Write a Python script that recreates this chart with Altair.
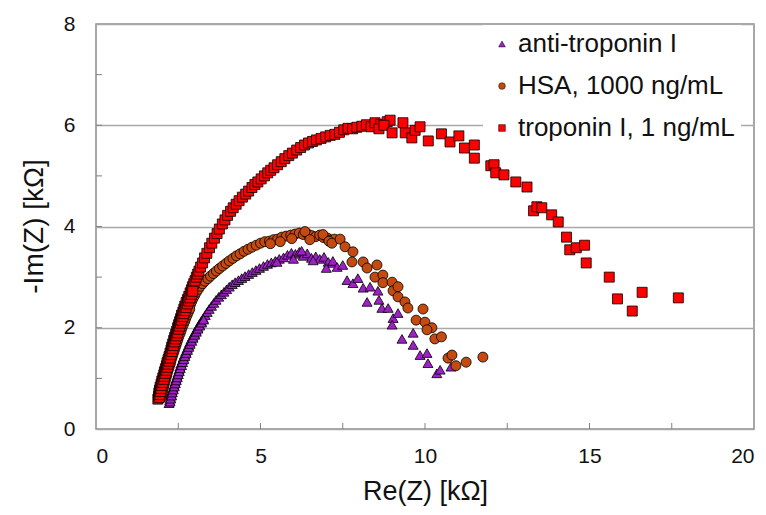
import altair as alt
import pandas as pd

series_names = ["anti-troponin I", "HSA, 1000 ng/mL", "troponin I, 1 ng/mL"]
series_colors = ["#A020C8", "#C44A10", "#FF0000"]
series_shapes = ["triangle-up", "circle", "square"]

anti_x = [2.22, 2.24, 2.26, 2.28, 2.31, 2.34, 2.37, 2.40, 2.43, 2.46,
          2.49, 2.52, 2.55, 2.58, 2.62, 2.65, 2.69, 2.73, 2.77, 2.81,
          2.85, 2.89, 2.94, 2.99, 3.04, 3.09, 3.14, 3.20, 3.26, 3.32,
          3.38, 3.44, 3.51, 3.58, 3.65, 3.73, 3.81, 3.89, 3.97, 4.05,
          4.14, 4.23, 4.33, 4.43, 4.53, 4.64, 4.75, 4.86, 4.97, 5.09,
          5.21, 5.33, 5.45, 5.57, 5.70, 5.82, 5.94, 6.06, 6.18, 6.30,
          6.42, 6.55, 6.68, 6.80, 6.93, 7.06, 7.20,
          5.50, 6.00, 6.25, 6.60, 7.00,
          7.20, 7.33, 7.50, 7.63, 7.81, 7.96, 8.12, 8.33, 8.57, 8.24,
          8.60, 8.69, 8.88, 9.03, 9.18, 9.00, 9.30, 9.64, 9.64, 9.85,
          10.06, 10.09, 10.36, 10.46, 10.79]
anti_y = [0.51, 0.57, 0.63, 0.69, 0.75, 0.81, 0.87, 0.93, 0.99, 1.05,
          1.11, 1.17, 1.23, 1.29, 1.35, 1.41, 1.47, 1.53, 1.59, 1.65,
          1.71, 1.77, 1.83, 1.89, 1.95, 2.01, 2.07, 2.13, 2.19, 2.25,
          2.31, 2.37, 2.43, 2.49, 2.55, 2.61, 2.66, 2.71, 2.76, 2.81,
          2.86, 2.90, 2.94, 2.98, 3.02, 3.06, 3.10, 3.14, 3.18, 3.22,
          3.26, 3.29, 3.32, 3.36, 3.39, 3.44, 3.48, 3.46, 3.50, 3.42,
          3.47, 3.38, 3.41, 3.36, 3.40, 3.30, 3.28,
          3.30, 3.36, 3.52, 3.33, 3.18,
          3.32, 3.20, 3.24, 2.94, 2.88, 2.98, 2.79, 2.81, 2.73, 2.51,
          2.55, 2.39, 2.39, 2.19, 2.29, 2.06, 1.78, 1.90, 1.66, 1.46,
          1.50, 1.30, 1.10, 1.17, 1.23]
# densely packed high-frequency points (lower part of the arc)
anti_x_dense = [2.25, 2.27, 2.30, 2.32, 2.35, 2.38, 2.41, 2.44, 2.47, 2.50,
                2.53, 2.56, 2.60, 2.63, 2.67, 2.70, 2.74, 2.78, 2.82, 2.86,
                2.91, 2.95, 3.00, 3.05, 3.10, 3.15, 3.21, 3.27]
anti_y_dense = [0.54, 0.60, 0.66, 0.72, 0.78, 0.84, 0.90, 0.96, 1.02, 1.08,
                1.14, 1.20, 1.26, 1.32, 1.38, 1.44, 1.50, 1.56, 1.62, 1.68,
                1.74, 1.80, 1.86, 1.92, 1.98, 2.04, 2.10, 2.16]

hsa_x = [1.95, 1.97, 1.99, 2.01, 2.03, 2.05, 2.08, 2.10, 2.13, 2.15,
         2.18, 2.21, 2.23, 2.26, 2.29, 2.32, 2.35, 2.38, 2.41, 2.44,
         2.47, 2.50, 2.53, 2.57, 2.60, 2.64, 2.67, 2.71, 2.75, 2.79,
         2.83, 2.87, 2.91, 2.95, 3.00, 3.05, 3.11, 3.17, 3.24, 3.31,
         3.40, 3.48, 3.57, 3.66, 3.75, 3.85, 3.95, 4.05, 4.16, 4.27,
         4.38, 4.50, 4.62, 4.74, 4.87, 5.00, 5.13, 5.27, 5.40, 5.52,
         5.65, 5.78, 5.92, 6.05, 6.18, 6.30, 6.42, 6.55, 6.68, 6.80,
         6.92, 7.04, 7.15, 7.25,
         5.30, 5.60, 5.95, 6.35, 6.50, 6.90, 7.08,
         7.17, 7.42, 7.57, 7.81, 7.78, 8.12, 8.24, 8.54, 8.48, 8.72,
         8.72, 9.00, 9.03, 9.18, 9.18, 9.39, 9.48, 9.73, 9.94, 10.00,
         10.21, 10.06, 10.30, 10.50, 10.70, 10.82, 10.94, 11.25, 11.76]
hsa_y = [0.60, 0.66, 0.72, 0.78, 0.84, 0.90, 0.96, 1.02, 1.08, 1.14,
         1.20, 1.26, 1.32, 1.38, 1.44, 1.50, 1.56, 1.62, 1.68, 1.74,
         1.80, 1.86, 1.92, 1.98, 2.04, 2.10, 2.16, 2.22, 2.28, 2.34,
         2.40, 2.46, 2.52, 2.58, 2.64, 2.70, 2.76, 2.82, 2.87, 2.92,
         2.97, 3.02, 3.07, 3.12, 3.17, 3.22, 3.27, 3.32, 3.37, 3.42,
         3.46, 3.51, 3.55, 3.59, 3.63, 3.67, 3.70, 3.71, 3.74, 3.75,
         3.79, 3.81, 3.83, 3.85, 3.87, 3.84, 3.86, 3.82, 3.80, 3.83,
         3.78, 3.77, 3.73, 3.75,
         3.66, 3.70, 3.76, 3.90, 3.74, 3.84, 3.71,
         3.67, 3.75, 3.60, 3.50, 3.30, 3.30, 3.18, 3.24, 3.00, 3.04,
         2.89, 2.90, 2.73, 2.81, 2.61, 2.51, 2.39, 2.15, 2.37, 2.11,
         2.00, 1.96, 1.78, 1.82, 1.40, 1.46, 1.25, 1.32, 1.42]
hsa_x_dense = [1.99, 2.01, 2.03, 2.05, 2.07, 2.10, 2.12, 2.15, 2.17, 2.20,
               2.23, 2.26, 2.28, 2.31, 2.34, 2.37, 2.40, 2.43, 2.46, 2.49,
               2.52, 2.56, 2.59, 2.62, 2.66, 2.70, 2.73, 2.77, 2.81, 2.85]
hsa_y_dense = [0.63, 0.69, 0.75, 0.81, 0.87, 0.93, 0.99, 1.05, 1.11, 1.17,
               1.23, 1.29, 1.35, 1.41, 1.47, 1.53, 1.59, 1.65, 1.71, 1.77,
               1.83, 1.89, 1.95, 2.01, 2.07, 2.13, 2.19, 2.25, 2.31, 2.37]

trop_x = [1.88, 1.90, 1.91, 1.93, 1.95, 1.98, 2.00, 2.03, 2.06, 2.08,
          2.11, 2.14, 2.16, 2.19, 2.22, 2.25, 2.28, 2.30, 2.33, 2.36,
          2.39, 2.42, 2.45, 2.48, 2.51, 2.54, 2.57, 2.60, 2.64, 2.67,
          2.70, 2.74, 2.78, 2.82, 2.86, 2.90, 2.93, 2.97, 3.01, 3.05,
          3.09, 3.13,
          3.18, 3.24, 3.30, 3.37, 3.45, 3.52, 3.60, 3.68, 3.75, 3.84,
          3.92, 4.00, 4.09, 4.17, 4.26, 4.35, 4.45, 4.55, 4.64, 4.74,
          4.83, 4.92, 5.02, 5.12, 5.22, 5.31, 5.41, 5.52, 5.63, 5.74,
          5.86, 5.97, 6.10, 6.22, 6.34, 6.46, 6.58, 6.70, 6.84, 6.98,
          7.12, 7.26, 7.40, 7.53, 7.66, 7.80, 7.93, 8.08, 8.22, 8.36,
          8.48, 8.66, 8.85, 8.94, 8.60, 8.75,
          9.00, 9.33, 9.40, 9.60, 9.70, 9.85, 10.10, 10.50, 10.76, 11.03,
          11.20, 11.50, 11.50, 12.00, 12.10, 12.15, 12.40, 12.76, 13.10, 13.30,
          13.40, 13.55, 13.85, 14.05, 14.30, 14.40, 14.60, 14.85, 14.90, 15.60,
          15.85, 16.30, 16.60, 17.70]
trop_y = [0.59, 0.65, 0.71, 0.77, 0.83, 0.89, 0.95, 1.01, 1.07, 1.13,
          1.19, 1.25, 1.31, 1.37, 1.43, 1.50, 1.56, 1.62, 1.68, 1.75,
          1.81, 1.87, 1.93, 2.00, 2.06, 2.12, 2.18, 2.25, 2.31, 2.37,
          2.43, 2.50, 2.56, 2.62, 2.69, 2.75, 2.81, 2.87, 2.93, 3.00,
          3.06, 3.12,
          3.20, 3.28, 3.38, 3.47, 3.58, 3.67, 3.77, 3.86, 3.95, 4.05,
          4.13, 4.22, 4.30, 4.37, 4.44, 4.51, 4.58, 4.64, 4.70, 4.77,
          4.83, 4.88, 4.94, 5.00, 5.06, 5.11, 5.16, 5.22, 5.28, 5.34,
          5.40, 5.45, 5.51, 5.56, 5.61, 5.65, 5.68, 5.71, 5.74, 5.77,
          5.80, 5.82, 5.86, 5.91, 5.94, 5.93, 5.96, 5.98, 6.01, 5.97,
          6.05, 6.02, 6.07, 6.10, 5.93, 6.00,
          5.85, 6.05, 5.85, 5.75, 5.90, 5.97, 5.69, 5.83, 5.67, 5.79,
          5.55, 5.61, 5.35, 5.20, 5.22, 5.06, 5.02, 4.88, 4.78, 4.31,
          4.39, 4.37, 4.23, 4.09, 3.79, 3.54, 3.58, 3.63, 3.28, 3.00,
          2.57, 2.33, 2.70, 2.59]
trop_x_dense = [1.92, 1.94, 1.96, 1.98, 2.00, 2.03, 2.06, 2.08, 2.11, 2.14,
                2.17, 2.19, 2.22, 2.25, 2.28, 2.31, 2.33, 2.36, 2.39, 2.42,
                2.45, 2.48, 2.51, 2.54, 2.57, 2.60, 2.64, 2.67, 2.71, 2.74,
                2.78, 2.82, 2.86, 2.90, 2.94]
trop_y_dense = [0.62, 0.68, 0.74, 0.80, 0.86, 0.92, 0.98, 1.04, 1.10, 1.16,
                1.22, 1.28, 1.34, 1.40, 1.47, 1.53, 1.59, 1.65, 1.72, 1.78,
                1.84, 1.90, 1.97, 2.03, 2.09, 2.15, 2.22, 2.28, 2.34, 2.40,
                2.47, 2.53, 2.59, 2.66, 2.72]

x_label_values = [0, 5, 10, 15, 20]
y_label_values = [0, 2, 4, 6, 8]
x_minor_ticks = [2.5, 5, 7.5, 10, 12.5, 15, 17.5]
y_minor_ticks = [1, 2, 3, 4, 5, 6, 7]

series_x = [anti_x + anti_x_dense, hsa_x + hsa_x_dense, trop_x + trop_x_dense]
series_y = [anti_y + anti_y_dense, hsa_y + hsa_y_dense, trop_y + trop_y_dense]

rows = []
for name, xs, ys in zip(series_names, series_x, series_y):
    for xv, yv in zip(xs, ys):
        rows.append({"x": xv, "y": yv, "series": name, "idx": len(rows)})
df = pd.DataFrame(rows)

FONT = "Liberation Sans"
xscale = alt.Scale(domain=[0, 20], nice=False, zero=False)
yscale = alt.Scale(domain=[0, 8], nice=False, zero=False)

xaxis = alt.Axis(values=x_label_values, grid=False, ticks=False, domain=False,
                 labelFont=FONT, labelFontSize=21, labelColor="#111", labelPadding=16,
                 title="Re(Z) [kΩ]", titleFont=FONT, titleFontSize=27, titleFontWeight="normal",
                 titleColor="#111", titleY=70, titleBaseline="alphabetic")
yaxis = alt.Axis(values=y_label_values, grid=True, gridColor="#A8A8A8", gridWidth=1.5,
                 ticks=False, domain=False,
                 labelFont=FONT, labelFontSize=21, labelColor="#111", labelPadding=21,
                 title="-Im(Z) [kΩ]", titleFont=FONT, titleFontSize=28, titleFontWeight="normal",
                 titleColor="#111", titleX=-54, titleY=202, titleBaseline="alphabetic")

points = alt.Chart(df).mark_point(filled=True, opacity=1, size=100, stroke="black",
                                  strokeWidth=0.8).encode(
    x=alt.X("x:Q", scale=xscale, axis=xaxis),
    y=alt.Y("y:Q", scale=yscale, axis=yaxis),
    color=alt.Color("series:N", scale=alt.Scale(domain=series_names, range=series_colors),
                    legend=alt.Legend(title=None)),
    shape=alt.Shape("series:N", scale=alt.Scale(domain=series_names, range=series_shapes),
                    legend=alt.Legend(title=None)),
    order=alt.Order("idx:Q"),
)

xt = alt.Chart(pd.DataFrame({"x": x_minor_ticks})).mark_rule(color="#808080", strokeWidth=1).encode(
    x=alt.X("x:Q", scale=xscale, axis=xaxis),
    y=alt.value(405), y2=alt.value(399),
)
yt = alt.Chart(pd.DataFrame({"y": y_minor_ticks})).mark_rule(color="#808080", strokeWidth=1).encode(
    y=alt.Y("y:Q", scale=yscale, axis=yaxis),
    x=alt.value(0), x2=alt.value(6),
)

chart = alt.layer(points, xt, yt).properties(
    width=658, height=405,
    autosize=alt.AutoSizeParams(type="none"),
    padding={"left": 88, "top": 16, "right": 4, "bottom": 78},
    background="white",
).configure_view(
    stroke="#8C8C8C", strokeWidth=1.5,
).configure_legend(
    orient="none", legendX=387, legendY=1, fillColor="white", padding=6,
    rowPadding=16, labelFont=FONT, labelFontSize=26, labelColor="#111",
    symbolSize=45, symbolOffset=0, labelOffset=3, labelLimit=400,
    symbolStrokeColor="black", symbolStrokeWidth=0.5,
)

chart.save("out.html", embed_options={"renderer": "svg", "actions": False})
